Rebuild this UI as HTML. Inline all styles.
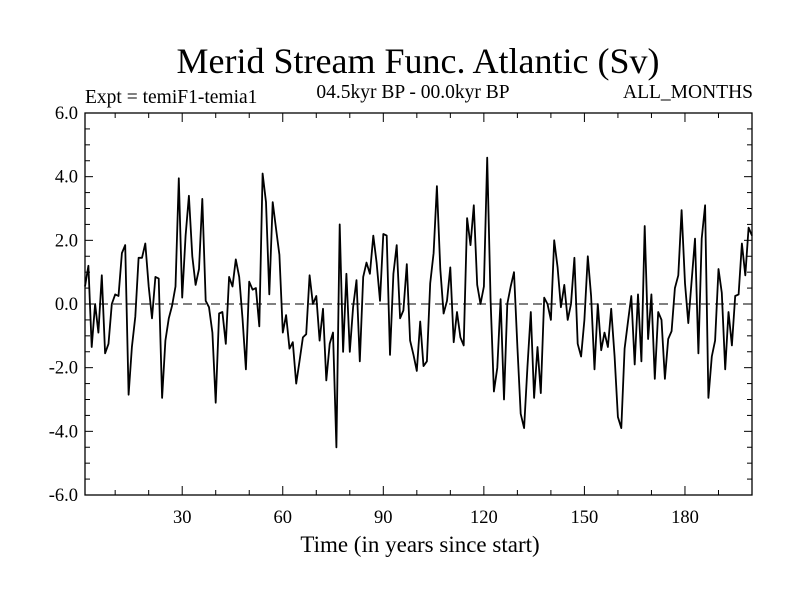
<!DOCTYPE html>
<html><head><meta charset="utf-8"><style>
html,body{margin:0;padding:0;background:#fff;}
svg{display:block;font-family:"Liberation Serif",serif;}
</style></head><body>
<svg id="chart" width="800" height="600" viewBox="0 0 800 600">
<text x="418" y="73" font-size="36" text-anchor="middle">Merid Stream Func. Atlantic (Sv)</text>
<text x="85" y="103" font-size="19.5">Expt = temiF1-temia1</text>
<text x="413" y="98" font-size="19.5" text-anchor="middle">04.5kyr BP - 00.0kyr BP</text>
<text x="753" y="98" font-size="19.5" text-anchor="end">ALL_MONTHS</text>
<text x="420" y="552" font-size="23" text-anchor="middle">Time (in years since start)</text>
<g id="axes"></g>
<g id="series"></g>
</svg>
<script>
const years=[];for(let i=1;i<=200;i++)years.push(i);
const values=[0.55,1.2,-1.35,0,-0.9,0.9,-1.55,-1.25,0,0.3,
0.25,1.6,1.85,-2.85,-1.35,-0.4,1.45,1.45,1.9,0.55,
-0.45,0.85,0.8,-2.95,-1.15,-0.45,-0.05,0.55,3.95,0.2,
2.15,3.4,1.5,0.6,1.1,3.3,0.1,-0.1,-0.9,-3.1,
-0.3,-0.25,-1.25,0.85,0.55,1.4,0.85,-0.45,-2.05,0.7,
0.45,0.5,-0.7,4.1,3.2,0.3,3.2,2.35,1.55,-0.9,
-0.35,-1.4,-1.2,-2.5,-1.8,-1.05,-0.95,0.9,0,0.25,
-1.15,-0.15,-2.4,-1.25,-0.9,-4.5,2.5,-1.5,0.95,-1.5,
-0.1,0.75,-1.8,0.85,1.3,0.95,2.15,1.3,0.1,2.2,
2.15,-1.6,0.95,1.85,-0.45,-0.2,1.25,-1.15,-1.6,-2.1,
-0.55,-1.95,-1.8,0.65,1.6,3.7,1.1,-0.3,0.1,1.15,
-1.2,-0.25,-1.05,-1.3,2.7,1.85,3.1,0.6,0,0.55,
4.6,0.1,-2.75,-2.0,0.15,-3.0,0,0.55,1.0,-1.35,
-3.45,-3.9,-2.0,-0.25,-2.95,-1.35,-2.8,0.2,0,-0.5,
2.0,1.15,-0.1,0.6,-0.5,0,1.45,-1.25,-1.65,-0.5,
1.5,0.25,-2.05,0,-1.45,-0.9,-1.35,-0.15,-1.65,-3.55,
-3.9,-1.4,-0.55,0.25,-1.9,0.3,-1.8,2.45,-1.1,0.3,
-2.35,-0.25,-0.5,-2.35,-1.1,-0.85,0.5,0.9,2.95,0.65,
-0.6,0.75,2.05,-1.55,2.05,3.1,-2.95,-1.65,-1.15,1.1,
0.35,-2.05,-0.25,-1.3,0.25,0.3,1.9,0.9,2.4,2.15];
const yTicks=[-6,-4,-2,0,2,4,6];
const yTickLabels=["-6.0","-4.0","-2.0","0.0","2.0","4.0","6.0"];
const xTicks=[30,60,90,120,150,180];
const xTickLabels=["30","60","90","120","150","180"];
const L=85,R=752,T=113,B=495,X0=1,X1=200,Y0=-6,Y1=6;
const sx=t=>L+(t-X0)/(X1-X0)*(R-L);
const sy=v=>B-(v-Y0)/(Y1-Y0)*(B-T);
const NS="http://www.w3.org/2000/svg";
const axes=document.getElementById('axes'),series=document.getElementById('series');
function mk(tag,attrs,parent){const e=document.createElementNS(NS,tag);for(const k in attrs)e.setAttribute(k,attrs[k]);parent.appendChild(e);return e;}
let frame=mk('rect',{x:L,y:T,width:R-L,height:B-T,fill:'none',stroke:'#000','stroke-width':1.3},axes);


let zero=mk('line',{x1:L,x2:R,y1:sy(0),y2:sy(0),stroke:'#000','stroke-width':1,'stroke-dasharray':'9,5'},axes);


for(let v=Y0;v<=Y1+1e-9;v+=0.5){
 const maj=Math.abs(v-Math.round(v/2)*2)<1e-9;const len=maj?8:5;
 const a=mk('line',{x1:L,x2:L+len,y1:sy(v),y2:sy(v),stroke:'#000'},axes);
 
 
 const b=mk('line',{x1:R,x2:R-len,y1:sy(v),y2:sy(v),stroke:'#000'},axes);
 
 
}
yTicks.forEach((v,i)=>{const t=mk('text',{x:L-7,y:sy(v)+6,'font-size':18.5,'text-anchor':'end'},axes);t.textContent=yTickLabels[i];
 
 });
for(let x=10;x<X1;x+=10){
 const len=(x%30===0)?9:5;
 const a=mk('line',{x1:sx(x),x2:sx(x),y1:B,y2:B-len,stroke:'#000'},axes);
 
 
 const b=mk('line',{x1:sx(x),x2:sx(x),y1:T,y2:T+len,stroke:'#000'},axes);
 
 
}
xTicks.forEach((x,i)=>{const t=mk('text',{x:sx(x),y:523,'font-size':18.5,'text-anchor':'middle'},axes);t.textContent=xTickLabels[i];
 
 });
const pts=years.map((t,i)=>sx(t).toFixed(1)+','+sy(values[i]).toFixed(1)).join(' ');
const line=mk('polyline',{points:pts,fill:'none',stroke:'#000','stroke-width':1.8,'stroke-linejoin':'round'},series);


</script>
</body></html>
